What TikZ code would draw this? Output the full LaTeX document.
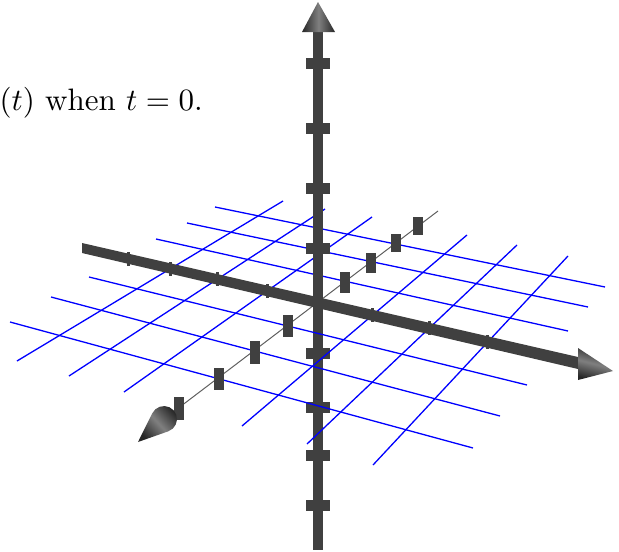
\documentclass[tikz,border=0pt]{standalone}
\usepackage{amsmath}
\usepackage{xcolor}
\usetikzlibrary{calc}

\definecolor{axisgray}{RGB}{64,64,64}
\definecolor{depthgray}{RGB}{95,95,95}
\definecolor{gridblue}{RGB}{0,0,255}

\begin{document}
\begin{tikzpicture}[
    x=1pt, y=-1pt,
    gridline/.style={draw=gridblue, line width=1.3pt},
    shaft/.style={fill=axisgray},
    depthline/.style={draw=depthgray, line width=1pt},
    conev/.style={shade, left color=black!85, right color=black!85, middle color=black!50},
    coneh/.style={shade, top color=black!85, bottom color=black!85, middle color=black!50},
    ztick/.style={fill=axisgray, minimum width=24pt, minimum height=11pt, inner sep=0pt},
    dtick/.style={fill=axisgray, minimum width=10pt, inner sep=0pt},
    xtick/.style={fill=axisgray, minimum width=3pt, minimum height=14pt, inner sep=0pt},
  ]
  \useasboundingbox (0,0) rectangle (619,552);

  % --- caption ---
  \node[anchor=base west, inner sep=0pt, scale=3.1] (cap) at (-1,110) {$(t)$ when $t=0$.};

  % --- vertical axis below the plane ---
  \fill[shaft] (313,303) rectangle (323,550);
  \foreach \y in {353,407,455,505}
    \node[ztick] (zt\y) at (318,\y) {};

  % --- grid lines, parallel to the long axis ---
  \foreach \v/\lx/\ly/\rx/\ry in {p3/215/207/605/287, p2/187/223/588/307, p1/156/239/568/331,
                                  m1/89/277/527/385, m2/51/297/500/416, m3/10/322/473/448}
    \draw[gridline] (\lx,\ly) coordinate (gl\v) -- (\rx,\ry) coordinate (gr\v);

  % --- grid lines, parallel to the depth axis ---
  \foreach \u/\bx/\by/\tx/\ty in {m3/17/361/283/201, m2/69/376/325/209, m1/124/392/372/217,
                                  p1/242/426/467/235, p2/307/444/517/245, p3/373/465/568/256}
    \draw[gridline] (\bx,\by) coordinate (gb\u) -- (\tx,\ty) coordinate (gt\u);

  % --- depth axis ---
  \coordinate (dtop) at (438,211);
  \coordinate (dend) at (160,422);
  \draw[depthline] (dtop) -- (dend);
  \foreach \x/\y/\h in {418/226/18, 396/243/18, 371/263/20, 345/282/21,
                        288/326/22, 255/352/23, 219/379/22, 179/408/23}
    \node[dtick, minimum height=\h pt] at (\x,\y) {};
  \shade[conev, shading angle=-48]
    (138,442) -- (168.3,431.3) arc[start angle=70.5, end angle=-153.5, radius=13] -- cycle;

  % --- long axis ---
  \coordinate (xl) at (82,248);
  \coordinate (xr) at (613,371);
  \fill[shaft] (82,243) -- (578,357) -- (578,369) -- (82,253) -- cycle;
  \node[xtick] at (128,259) {};
  \foreach \u in {m3,m2,m1,p1,p2,p3}
    \node[xtick] at (intersection of xl--xr and gb\u--gt\u) {};
  \shade[coneh, shading angle=-14] (578,348) -- (xr) -- (578,380) -- cycle;

  % --- vertical axis above the plane ---
  \fill[shaft] (313,32) rectangle (323,304);
  \foreach \y in {63,128,188,248}
    \node[ztick] (zt\y) at (318,\y) {};
  \shade[conev] (302,32) -- (318,2) -- (335,32) -- cycle;
\end{tikzpicture}
\end{document}
